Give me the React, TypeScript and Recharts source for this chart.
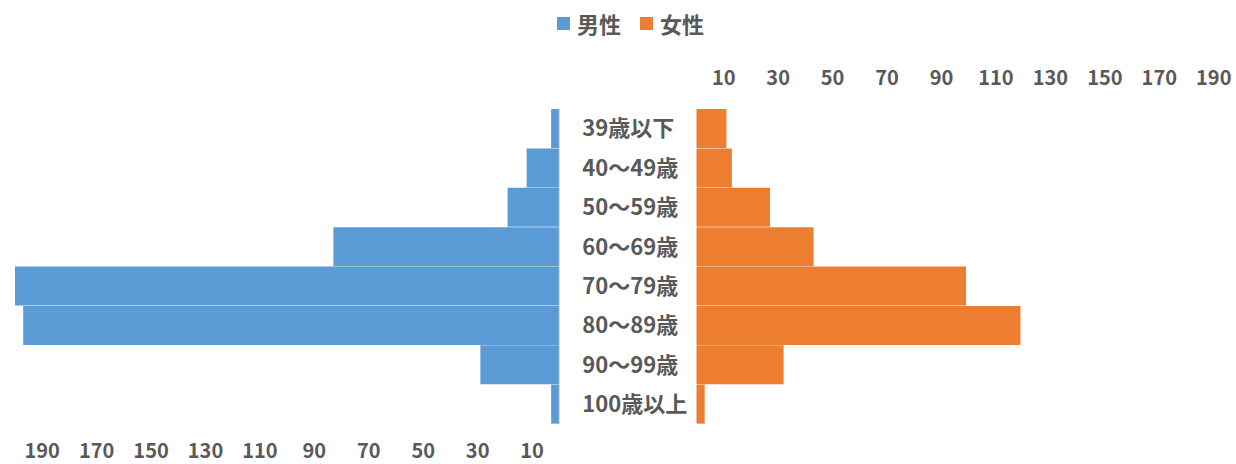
import { Bar, BarChart, XAxis, YAxis } from "recharts";

const ages = [
  "39歳以下",
  "40～49歳",
  "50～59歳",
  "60～69歳",
  "70～79歳",
  "80～89歳",
  "90～99歳",
  "100歳以上",
];
const maleCounts = [3, 12, 19, 83, 200, 197, 29, 3];
const femaleCounts = [11, 13, 27, 43, 99, 119, 32, 3];
const axisTicks = [10, 30, 50, 70, 90, 110, 130, 150, 170, 190];

const MALE_COLOR = "#5B9BD5";
const FEMALE_COLOR = "#ED7D31";
const TEXT_COLOR = "#595959";
const FONT = "'Noto Sans CJK JP', 'Noto Sans', sans-serif";

const rows = ages.map((age, i) => ({
  age,
  male: maleCounts[i],
  female: femaleCounts[i],
}));

const tickStyle = { fill: TEXT_COLOR, fontSize: 20, fontWeight: "bold", fontFamily: FONT };

function AgeTick({ x, y, payload }: { x: number; y: number; payload: { value: string } }) {
  return (
    <text
      x={x}
      y={y}
      dy="0.35em"
      textAnchor="start"
      fill={TEXT_COLOR}
      fontSize={22}
      fontWeight="bold"
      fontFamily={FONT}
    >
      {payload.value}
    </text>
  );
}

function LegendItem({ color, label }: { color: string; label: string }) {
  return (
    <span style={{ display: "inline-flex", alignItems: "center", marginRight: 19 }}>
      <span style={{ width: 13, height: 13, background: color, marginRight: 7 }} />
      <span>{label}</span>
    </span>
  );
}

export default function App() {
  return (
    <div
      style={{
        position: "fixed",
        top: 0,
        left: 0,
        width: 1236,
        height: 464,
        overflow: "hidden",
        background: "#fff",
        fontFamily: FONT,
      }}
    >
      <div
        style={{
          position: "absolute",
          top: 8,
          left: 557,
          height: 30,
          display: "flex",
          alignItems: "center",
          fontSize: 22,
          fontWeight: "bold",
          color: TEXT_COLOR,
          whiteSpace: "nowrap",
        }}
      >
        <LegendItem color={MALE_COLOR} label="男性" />
        <LegendItem color={FEMALE_COLOR} label="女性" />
      </div>

      <div style={{ position: "absolute", top: 0, left: 0 }}>
        <BarChart
          width={700}
          height={464}
          data={rows}
          layout="vertical"
          barCategoryGap={0}
          margin={{ top: 109, right: 0, bottom: 0, left: 15 }}
        >
          <XAxis
            type="number"
            domain={[0, 200]}
            reversed
            ticks={axisTicks}
            interval={0}
            height={40}
            axisLine={false}
            tickLine={false}
            tickSize={0}
            tickMargin={20}
            tick={tickStyle}
          />
          <YAxis
            type="category"
            dataKey="age"
            orientation="right"
            width={140.7}
            axisLine={{ stroke: "#D9D9D9" }}
            tickLine={false}
            tickSize={0}
            tickMargin={23}
            interval={0}
            tick={(props: any) => <AgeTick {...props} />}
          />
          <Bar dataKey="male" name="男性" fill={MALE_COLOR} isAnimationActive={false} />
        </BarChart>
      </div>

      <div style={{ position: "absolute", top: 0, left: 560 }}>
        <BarChart
          width={681}
          height={464}
          data={rows}
          layout="vertical"
          barCategoryGap={0}
          margin={{ top: 0, right: 0, bottom: 40, left: 136.5 }}
        >
          <XAxis
            type="number"
            orientation="top"
            domain={[0, 200]}
            ticks={axisTicks}
            interval={0}
            height={109}
            axisLine={false}
            tickLine={false}
            tickSize={0}
            tickMargin={24}
            tick={tickStyle}
          />
          <YAxis type="category" dataKey="age" hide />
          <Bar dataKey="female" name="女性" fill={FEMALE_COLOR} isAnimationActive={false} />
        </BarChart>
      </div>
    </div>
  );
}
